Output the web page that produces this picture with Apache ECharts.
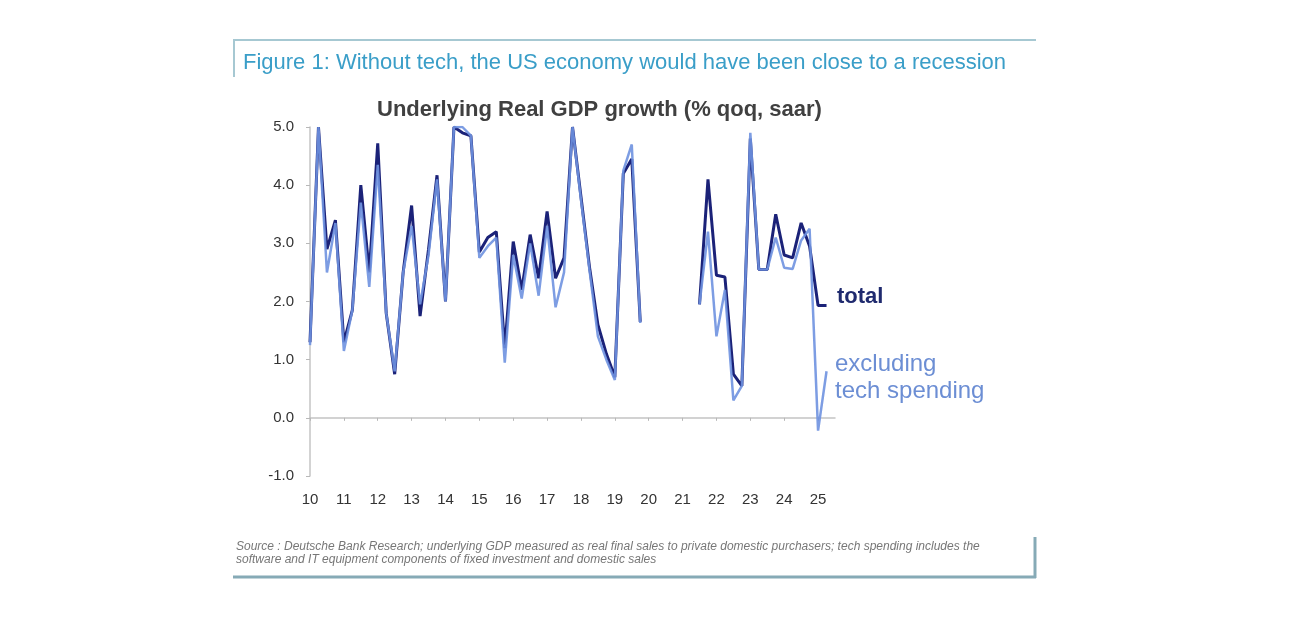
<!DOCTYPE html>
<html>
<head>
<meta charset="utf-8">
<script src="https://cdn.jsdelivr.net/npm/echarts@6/dist/echarts.min.js"></script>
<style>
html,body{margin:0;padding:0;background:#fff;}
#chart{width:1300px;height:617px;}
</style>
</head>
<body>
<div id="chart"></div>
<script>
// ---- data ----
const years = ['10','11','12','13','14','15','16','17','18','19','20','21','22','23','24','25'];
const quarters = ['Q1','Q2','Q3','Q4'];
const categories = [];
years.forEach(y => quarters.forEach(q => categories.push(y + q)));
categories.length = 63; // 2010Q1 .. 2025Q3

const total = [
  1.3, 5.0, 2.9, 3.4,   1.3, 1.85, 4.0, 2.5,   4.72, 1.8, 0.75, 2.5,
  3.65, 1.75, 2.9, 4.17, 2.0, 5.0, 4.9, 4.85,  2.85, 3.1, 3.2, 1.2,
  3.03, 2.2, 3.15, 2.4,  3.55, 2.4, 2.75, 5.0,  3.8, 2.6, 1.6, 1.1,
  0.7, 4.2, 4.45, 1.65,  null, null, null, null, null, null, 1.95, 4.1,
  2.45, 2.42, 0.75, 0.55, 4.8, 2.55, 2.55, 3.5,  2.8, 2.75, 3.35, 2.95,
  1.93, 1.93
];
const exTech = [
  1.25, 5.0, 2.5, 3.35,  1.15, 1.85, 3.7, 2.25,  4.35, 1.8, 0.8, 2.5,
  3.3, 1.95, 2.8, 4.1,   2.0, 5.0, 5.0, 4.85,   2.75, 2.95, 3.1, 0.95,
  2.8, 2.05, 3.0, 2.1,   3.3, 1.9, 2.5, 5.0,    3.75, 2.55, 1.4, 1.0,
  0.65, 4.25, 4.7, 1.63, null, null, null, null, null, null, 1.95, 3.2,
  1.4, 2.2, 0.3, 0.55,   4.9, 2.55, 2.55, 3.1,  2.58, 2.56, 3.05, 3.25,
  -0.22, 0.8
];
const yTicks = {min: -1, max: 5, interval: 1};

const figTitle = 'Figure 1: Without tech, the US economy would have been close to a recession';
const chartTitle = 'Underlying Real GDP growth (% qoq, saar)';
const srcLine1 = 'Source : Deutsche Bank Research; underlying GDP measured as real final sales to private domestic purchasers; tech spending includes the';
const srcLine2 = 'software and IT equipment components of fixed investment and domestic sales';

const FONT = '"Liberation Sans", Arial, Helvetica, sans-serif';
const chart = echarts.init(document.getElementById('chart'));
chart.setOption({
  animation: false,
  backgroundColor: '#fff',
  grid: {left: 310, right: 465, top: 127, bottom: 141, containLabel: false},
  xAxis: [
    {
      type: 'category', data: categories, boundaryGap: false,
      axisLine: {onZero: true, lineStyle: {color: '#c4c4c4', width: 1.5}},
      axisTick: {show: true, interval: 3, length: 3, inside: false, lineStyle: {color: '#b8b8b8'}},
      axisLabel: {show: false},
      splitLine: {show: false}
    },
    {
      type: 'category', data: categories, boundaryGap: false, position: 'bottom',
      axisLine: {show: false, onZero: false},
      axisTick: {show: false},
      axisLabel: {
        interval: 3, margin: 16, color: '#333', fontSize: 15, fontFamily: FONT,
        formatter: v => v.slice(0, 2)
      },
      splitLine: {show: false}
    }
  ],
  yAxis: {
    type: 'value', min: yTicks.min, max: yTicks.max, interval: yTicks.interval,
    axisLine: {show: true, lineStyle: {color: '#c4c4c4', width: 1.5}},
    axisTick: {show: true, length: 4, lineStyle: {color: '#b8b8b8'}},
    axisLabel: {margin: 16, color: '#333', fontSize: 15, fontFamily: FONT, formatter: v => v.toFixed(1)},
    splitLine: {show: false}
  },
  series: [
    {
      name: 'total', type: 'line', data: total, xAxisIndex: 0, showSymbol: false, connectNulls: false,
      lineStyle: {color: '#1b2278', width: 3}, z: 2
    },
    {
      name: 'excluding tech spending', type: 'line', data: exTech, xAxisIndex: 0, showSymbol: false, connectNulls: false,
      lineStyle: {color: '#6f92e0', width: 2.5, opacity: 0.9}, z: 3
    }
  ],
  graphic: [
    {type: 'line', shape: {x1: 233, y1: 40, x2: 1036, y2: 40}, style: {stroke: '#a6c8d2', lineWidth: 2}},
    {type: 'line', shape: {x1: 234, y1: 40, x2: 234, y2: 77}, style: {stroke: '#a6c8d2', lineWidth: 2}},
    {type: 'text', left: 243, top: 52, style: {text: figTitle, fill: '#3a9ec8', font: '22px ' + FONT}},
    {type: 'text', left: 377, top: 99, style: {text: chartTitle, fill: '#404040', font: 'bold 22px ' + FONT}},
    {type: 'text', left: 837, top: 286, style: {text: 'total', fill: '#1f2a6e', font: 'bold 22px ' + FONT}},
    {type: 'text', left: 835, top: 351, style: {text: 'excluding\ntech spending', fill: '#6c8ed4', font: '24px ' + FONT, lineHeight: 27}},
    {type: 'text', left: 236, top: 540, style: {text: srcLine1 + '\n' + srcLine2, fill: '#777', font: 'italic 12px ' + FONT, lineHeight: 13}},
    {type: 'line', shape: {x1: 233, y1: 577, x2: 1036, y2: 577}, style: {stroke: '#86aab6', lineWidth: 3}},
    {type: 'line', shape: {x1: 1035, y1: 537, x2: 1035, y2: 578}, style: {stroke: '#86aab6', lineWidth: 3}}
  ]
});
</script>
</body>
</html>
